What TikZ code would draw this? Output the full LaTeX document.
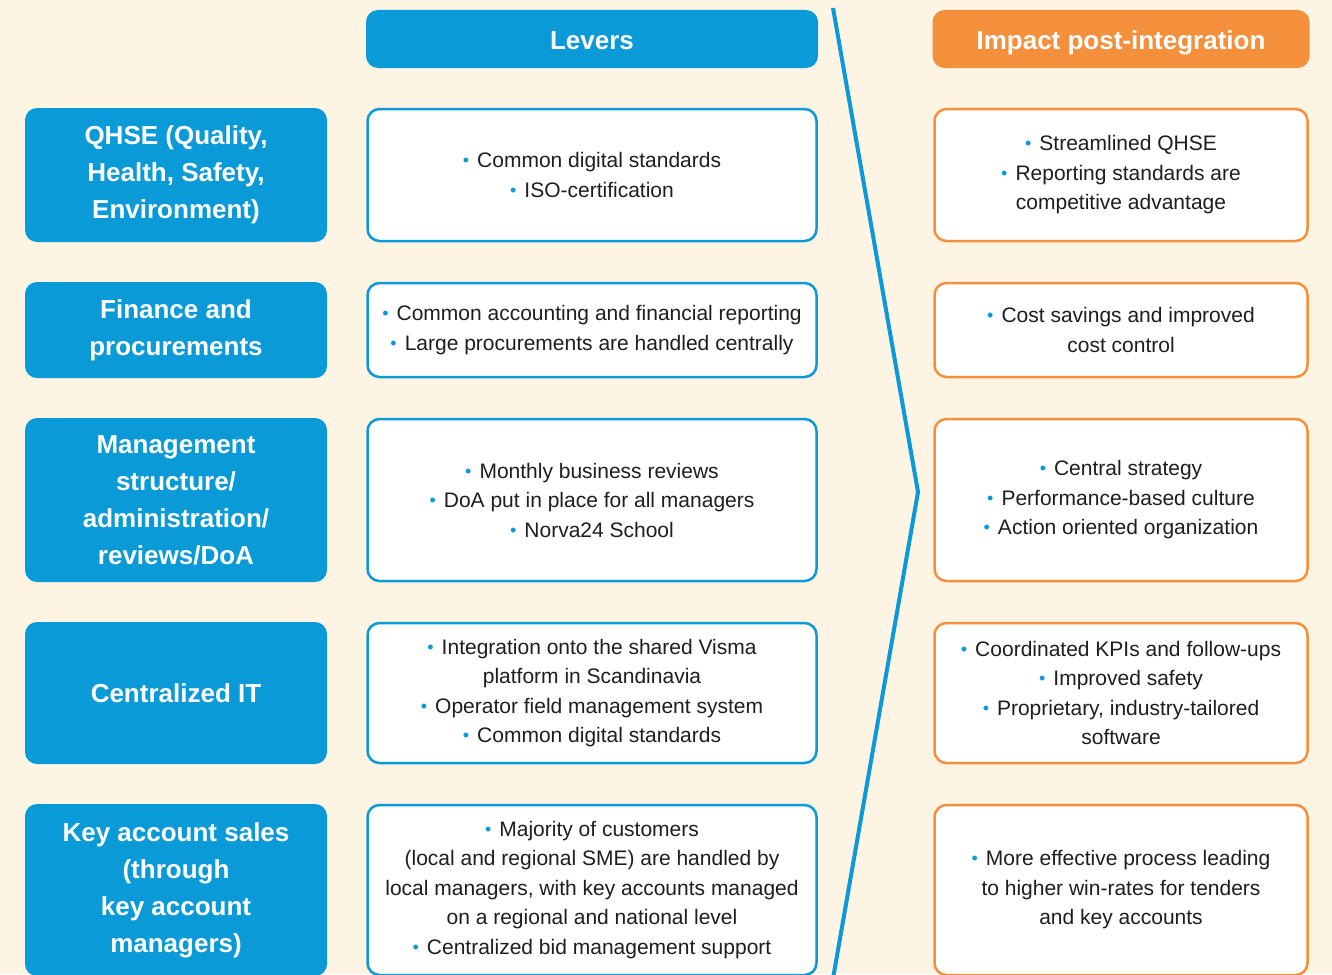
\documentclass[tikz,border=0pt]{standalone}
\usepackage{fontspec}
\setmainfont{Liberation Sans}
\usetikzlibrary{positioning}
\definecolor{lvblue}{HTML}{0A9AD7}
\definecolor{lvorange}{HTML}{F4903C}
\definecolor{cream}{HTML}{FDF4E3}
\definecolor{ink}{HTML}{1E1E1E}
\newcommand\bl{{\color{lvblue}\fontsize{18}{18}\selectfont\raisebox{1pt}{\textbullet}}\hspace{8pt}}
\tikzset{
  topic/.style={fill=lvblue, text=white, rounded corners=12pt, minimum width=302pt,
    align=center, font=\fontsize{26}{37}\selectfont\bfseries},
  lever/.style={draw=lvblue, fill=white, line width=2.5pt, rounded corners=12pt,
    minimum width=449pt, align=center, text=ink, font=\fontsize{21}{29.5}\selectfont},
  impact/.style={lever, draw=lvorange, minimum width=373pt},
  head/.style={rounded corners=12pt, text=white, minimum height=58pt,
    text height=22pt, text depth=0pt, font=\fontsize{26}{30}\selectfont\bfseries}
}

\begin{document}
\begin{tikzpicture}[x=1pt,y=-1pt]
\newcommand\XL{176}
\newcommand\XM{592}
\newcommand\XR{1121}

\fill[cream] (0,0) rectangle (1332,974);
\useasboundingbox (0,0) rectangle (1332,974);

\node[head, fill=lvblue, minimum width=452pt] (levers) at (\XM,39) {Levers};
\node[head, fill=lvorange, minimum width=377pt] (impact) at (\XR,39) {Impact post-integration};

% row 1
\node[topic, minimum height=134pt] (qhse) at (\XL,175) {QHSE (Quality,\\Health, Safety,\\Environment)};
\node[lever, minimum height=132pt] (qhseL) at (\XM,175) {\bl Common digital standards\\\bl ISO-certification};
\node[impact, minimum height=132pt] (qhseI) at (\XR,175) {\bl Streamlined QHSE\\\bl Reporting standards are\\competitive advantage};

% row 2
\node[topic, minimum height=96pt] (fin) at (\XL,330) {Finance and\\procurements};
\node[lever, minimum height=94pt] (finL) at (\XM,330) {\bl Common accounting and financial reporting\\\bl Large procurements are handled centrally};
\node[impact, minimum height=94pt] (finI) at (\XR,330) {\bl Cost savings and improved\\cost control};

% row 3
\node[topic, minimum height=164pt] (mgmt) at (\XL,500) {Management\\structure/\\administration/\\reviews/DoA};
\node[lever, minimum height=162pt] (mgmtL) at (\XM,500) {\bl Monthly business reviews\\\bl DoA put in place for all managers\\\bl Norva24 School};
\node[impact, minimum height=162pt] (mgmtI) at (\XR,500) {\bl Central strategy\\\bl Performance-based culture\\\bl Action oriented organization};

% row 4
\node[topic, minimum height=142pt] (it) at (\XL,693) {Centralized IT};
\node[lever, minimum height=140pt] (itL) at (\XM,693) {\bl Integration onto the shared Visma\\platform in Scandinavia\\\bl Operator field management system\\\bl Common digital standards};
\node[impact, minimum height=140pt] (itI) at (\XR,693) {\bl Coordinated KPIs and follow-ups\\\bl Improved safety\\\bl Proprietary, industry-tailored\\software};

% row 5
\node[topic, minimum height=172pt] (kas) at (\XL,890) {Key account sales\\(through\\key account\\managers)};
\node[lever, minimum height=170pt] (kasL) at (\XM,890) {\bl Majority of customers\\(local and regional SME) are handled by\\local managers, with key accounts managed\\on a regional and national level\\\bl Centralized bid management support};
\node[impact, minimum height=170pt] (kasI) at (\XR,890) {\bl More effective process leading\\to higher win-rates for tenders\\and key accounts};

% chevron
\draw[lvblue, line width=4pt] (833,8) -- (918,492) -- (831,990);
\end{tikzpicture}
\end{document}
